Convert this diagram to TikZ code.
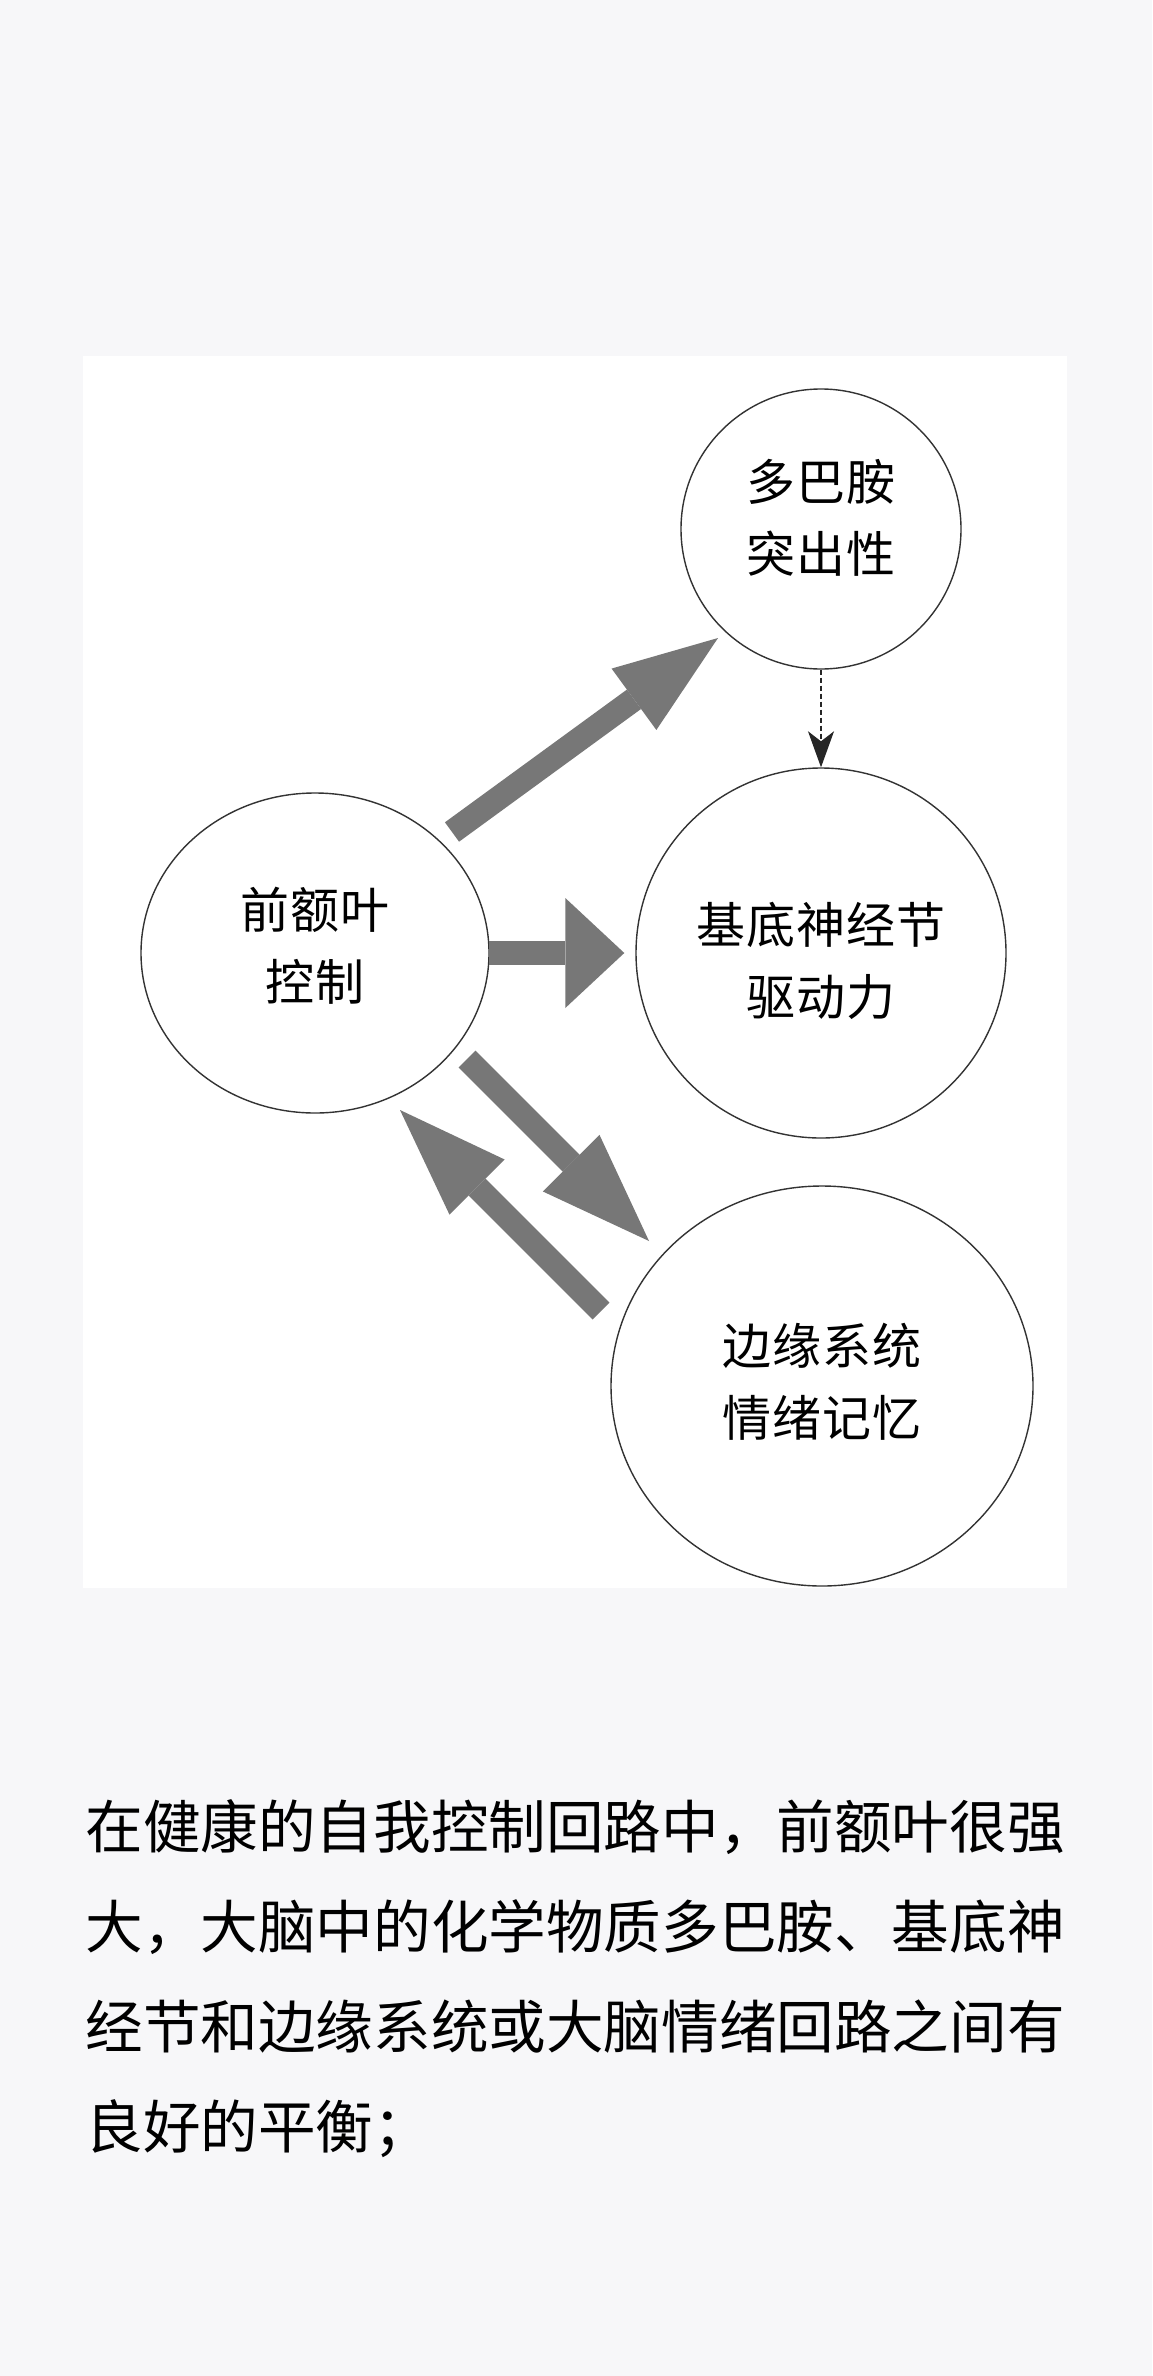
\documentclass[tikz,border=0pt]{standalone}
\usepackage{fontspec}
\usetikzlibrary{arrows.meta,shapes.geometric}
\newfontfamily\cjk{Noto Sans CJK SC}
\newfontfamily\cjkwide[LetterSpace=2]{Noto Sans CJK SC}
\definecolor{pagebg}{HTML}{F7F7F9}
\definecolor{arrowgray}{HTML}{777777}

\begin{document}
\begin{tikzpicture}[x=0.5pt,y=-0.5pt,
  region/.style={ellipse,draw=black!80,line width=0.7pt,inner sep=0pt,align=center,
    font=\cjkwide\fontsize{24.5pt}{36pt}\selectfont},
  bigarrow/.style n args={2}{draw=arrowgray,line width=12pt,
    -{Triangle[length=#1,width=#2,line width=0pt 0]}}]
 \useasboundingbox (0,0) rectangle (1152,2376);
 \fill[pagebg] (0,0) rectangle (1152,2376);
 \fill[white] (83,356) rectangle (1067,1588);

 \node[region,minimum width=174pt,minimum height=160pt,text depth=9pt] (pfc) at (315,953) {前额叶\\控制};
 \node[region,minimum size=140pt,text depth=13pt] (da)  at (821,529)  {多巴胺\\突出性};
 \node[region,minimum size=185pt,text height=65pt] (bg)  at (821,953)  {基底神经节\\驱动力};
 \node[region,minimum width=211pt,minimum height=200pt,text depth=6pt] (lim) at (822,1386) {边缘系统\\情绪记忆};

 % ends of the wide arrows
 \coordinate (pfc-da)  at (452,832);
 \coordinate (da-in)   at (718,638);
 \coordinate (pfc-lim) at (467,1059);
 \coordinate (lim-in)  at (649,1241);
 \coordinate (lim-pfc) at (601,1311);
 \coordinate (pfc-in)  at (400,1110);

 \draw[bigarrow={52pt}{38pt}] (pfc-da) -- (da-in);
 \draw[bigarrow={29.5pt}{55pt},shorten <=-0.5pt,shorten >=5.5pt] (pfc.east) -- (bg.west);
 \draw[bigarrow={55pt}{40pt}] (pfc-lim) -- (lim-in);
 \draw[bigarrow={54.5pt}{39pt}] (lim-pfc) -- (pfc-in);

 \draw[black!85,line width=0.6pt,dash pattern=on 2.5pt off 1.5pt,
   -{Stealth[length=18pt,width=13pt,inset=5pt]}] (da.south) -- (bg.north);

 \node[anchor=north west,inner sep=0pt,align=left,
   font=\cjk\fontsize{28.8pt}{50pt}\selectfont] (caption) at (85,1799)
   {在健康的自我控制回路中，前额叶很强\\大，大脑中的化学物质多巴胺、基底神\\经节和边缘系统或大脑情绪回路之间有\\良好的平衡；};
\end{tikzpicture}
\end{document}
